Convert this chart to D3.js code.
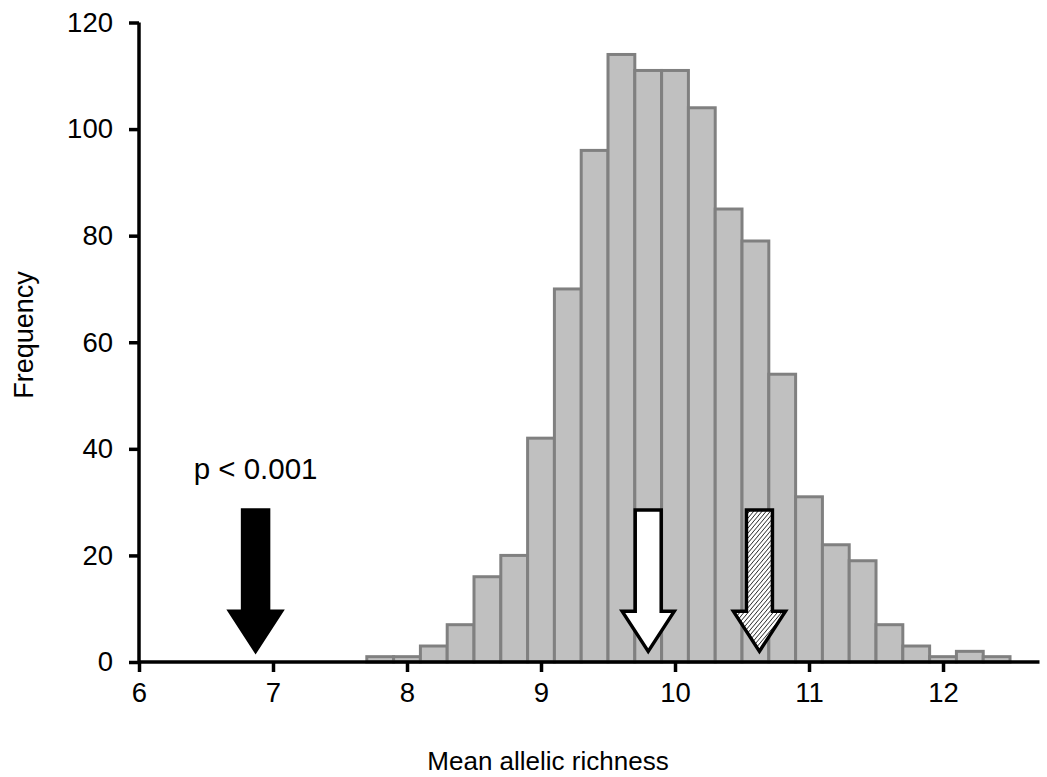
<!DOCTYPE html>
<html>
<head>
<meta charset="utf-8">
<script src="https://cdn.jsdelivr.net/npm/d3@7"></script>
<style>
  html, body { margin: 0; padding: 0; background: #fff; }
  svg { display: block; font-family: "Liberation Sans", Arial, sans-serif; }
</style>
</head>
<body>
<svg id="chart" width="1047" height="777"></svg>
<script>
// ---- data ----
const binStarts = [7.7, 7.9, 8.1, 8.3, 8.5, 8.7, 8.9, 9.1, 9.3, 9.5, 9.7, 9.9,
                   10.1, 10.3, 10.5, 10.7, 10.9, 11.1, 11.3, 11.5, 11.7, 11.9, 12.1, 12.3];
const binWidth = 0.2;
const frequencies = [1, 1, 3, 7, 16, 20, 42, 70, 96, 114, 111, 111,
                     104, 85, 79, 54, 31, 22, 19, 7, 3, 1, 2, 1];
const xTicks = [6, 7, 8, 9, 10, 11, 12];
const yTicks = [0, 20, 40, 60, 80, 100, 120];
const arrowValues = [6.87, 9.80, 10.63];
const arrowStyles = ["black", "white", "hatch"];
const arrowTop = 28.5, arrowTip = 2.0;
const pLabel = "p < 0.001";
const xTitle = "Mean allelic richness";
const yTitle = "Frequency";

// ---- scales ----
const svg = d3.select("#chart");
const x = d3.scaleLinear().domain([6, 12.72]).range([139, 1039.5]);
const y = d3.scaleLinear().domain([0, 120]).range([662, 22.5]);

// hatch pattern
const defs = svg.append("defs");
const pat = defs.append("pattern").attr("id", "hatch")
  .attr("patternUnits", "userSpaceOnUse").attr("width", 3.2).attr("height", 3.2)
  .attr("patternTransform", "rotate(40)");
pat.append("rect").attr("width", 3.2).attr("height", 3.2).attr("fill", "#fff");
pat.append("line").attr("x1", 0).attr("y1", 0).attr("x2", 0).attr("y2", 3.2)
  .attr("stroke", "#000").attr("stroke-width", 1.3);

// bars
const bins = binStarts.map((s, i) => ({ x0: s, x1: s + binWidth, n: frequencies[i] }));
svg.append("g").selectAll("rect").data(bins).join("rect")
  .attr("x", d => x(d.x0))
  .attr("width", d => x(d.x1) - x(d.x0))
  .attr("y", d => y(d.n))
  .attr("height", d => y(0) - y(d.n))
  .attr("fill", "#c0c0c0")
  .attr("stroke", "#808080")
  .attr("stroke-width", 3);

// arrows
const headHalf = 26, shaftHalf = 13, headLen = 40;
const arrowPath = v => {
  const cx = x(v), t = y(arrowTop), tip = y(arrowTip), hb = tip - headLen;
  return `M${cx - shaftHalf},${t} L${cx + shaftHalf},${t} L${cx + shaftHalf},${hb} L${cx + headHalf},${hb} L${cx},${tip} L${cx - headHalf},${hb} L${cx - shaftHalf},${hb} Z`;
};
svg.append("g").selectAll("path").data(arrowValues).join("path")
  .attr("d", d => arrowPath(d))
  .attr("fill", (d, i) => arrowStyles[i] === "black" ? "#000" : arrowStyles[i] === "white" ? "#fff" : "url(#hatch)")
  .attr("stroke", "#000")
  .attr("stroke-width", 3.5)
  .attr("stroke-linejoin", "miter");

svg.append("text").attr("x", x(arrowValues[0])).attr("y", 479)
  .attr("text-anchor", "middle").attr("font-size", 29.5).attr("fill", "#000")
  .text(pLabel);

// axes
const xAxis = svg.append("g").attr("transform", `translate(0,${y(0)})`)
  .call(d3.axisBottom(x).tickValues(xTicks).tickSize(10).tickPadding(10).tickFormat(d3.format("d")));
const yAxis = svg.append("g").attr("transform", `translate(${x(6)},0)`)
  .call(d3.axisLeft(y).tickValues(yTicks).tickSize(10).tickPadding(16).tickFormat(d3.format("d")));
[xAxis, yAxis].forEach(g => {
  g.select(".domain").attr("stroke", "#000").attr("stroke-width", 3.5);
  g.selectAll(".tick line").attr("stroke", "#000").attr("stroke-width", 3.5);
  g.selectAll(".tick text").attr("font-size", 27.5).attr("fill", "#000")
    .attr("font-family", "Liberation Sans, Arial, sans-serif");
});
xAxis.select(".domain").attr("d", `M${x(6)},0H${x.range()[1]}`);
yAxis.select(".domain").attr("d", `M0,${y(0)}V${y(120)}`);

// axis titles
svg.append("text").attr("x", 548).attr("y", 770).attr("text-anchor", "middle")
  .attr("font-size", 26).attr("fill", "#000").text(xTitle);
svg.append("text").attr("transform", `translate(33,335) rotate(-90)`)
  .attr("text-anchor", "middle").attr("font-size", 27).attr("fill", "#000").text(yTitle);
</script>
</body>
</html>
